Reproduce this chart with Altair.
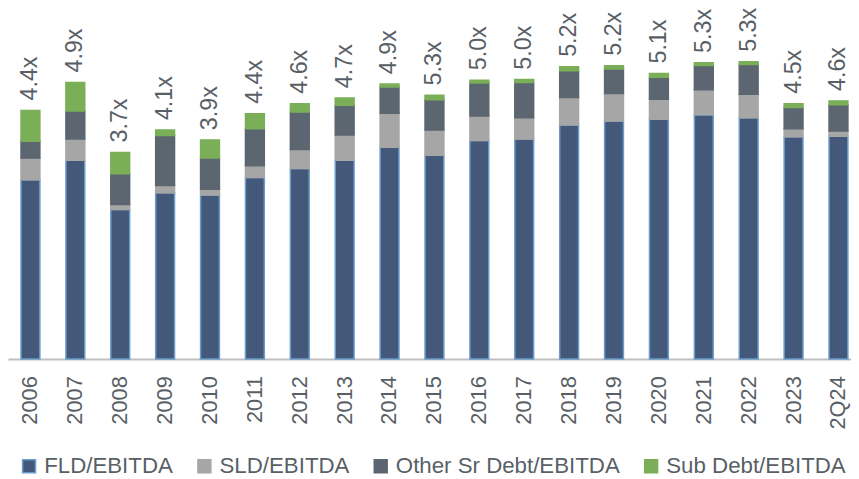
import altair as alt
import pandas as pd

categories = ["2006", "2007", "2008", "2009", "2010", "2011", "2012", "2013", "2014",
              "2015", "2016", "2017", "2018", "2019", "2020", "2021", "2022", "2023", "2Q24"]
series_names = ["FLD/EBITDA", "SLD/EBITDA", "Other Sr Debt/EBITDA", "Sub Debt/EBITDA"]
fld = [3.20, 3.55, 2.67, 2.97, 2.93, 3.24, 3.40, 3.55, 3.78, 3.64, 3.90, 3.93, 4.18, 4.25, 4.28, 4.36, 4.31, 3.97, 3.98]
sld = [0.39, 0.38, 0.09, 0.13, 0.10, 0.21, 0.34, 0.45, 0.61, 0.45, 0.44, 0.38, 0.49, 0.49, 0.36, 0.45, 0.42, 0.14, 0.09]
other_sr = [0.30, 0.50, 0.55, 0.89, 0.56, 0.66, 0.67, 0.53, 0.47, 0.54, 0.59, 0.63, 0.48, 0.44, 0.39, 0.43, 0.53, 0.38, 0.47]
sub_debt = [0.55, 0.51, 0.38, 0.10, 0.32, 0.27, 0.15, 0.13, 0.05, 0.08, 0.05, 0.05, 0.07, 0.06, 0.07, 0.05, 0.05, 0.07, 0.07]
total_labels = ["4.4x", "4.9x", "3.7x", "4.1x", "3.9x", "4.4x", "4.6x", "4.7x", "4.9x", "5.3x",
                "5.0x", "5.0x", "5.2x", "5.2x", "5.1x", "5.3x", "5.3x", "4.5x", "4.6x"]

fill_colors = ["#44597a", "#a6a6a6", "#5c6670", "#7aaf58"]
stroke_colors = ["#6a9ccb", "#a6a6a6", "#5c6670", "#7aaf58"]

rows = []
for i, cat in enumerate(categories):
    for k, (name, vals) in enumerate(zip(series_names, [fld, sld, other_sr, sub_debt])):
        rows.append({"cat": cat, "series": name, "value": vals[i], "ord": k})
df = pd.DataFrame(rows)

tot = pd.DataFrame({
    "cat": categories,
    "label": total_labels,
    "top": [a + b + c + d for a, b, c, d in zip(fld, sld, other_sr, sub_debt)],
})

FONT = "Liberation Sans"
TXT = "#595f66"

x_scale = alt.Scale(paddingInner=0.58, paddingOuter=0.29, range=[0, 861])
x_enc = alt.X(
    "cat:N", sort=categories, scale=x_scale,
    axis=alt.Axis(title=None, labelAngle=-90, ticks=False, grid=False,
                  domainColor="#bfbfbf", domainWidth=2, labelPadding=17,
                  labelFontSize=22, labelFont=FONT, labelColor=TXT),
)
y_scale = alt.Scale(domain=[0, 6.23], nice=False, zero=True)

bars = alt.Chart(df).mark_bar(strokeWidth=1.5).encode(
    x=x_enc,
    y=alt.Y("value:Q", stack="zero", scale=y_scale, axis=None),
    color=alt.Color(
        "series:N",
        scale=alt.Scale(domain=series_names, range=fill_colors),
        legend=alt.Legend(
            title=None, orient="none", legendX=10, legendY=449,
            direction="horizontal", symbolType="square", symbolSize=169,
            labelFontSize=22.5, labelFont=FONT, labelColor=TXT, labelLimit=0,
            labelOffset=4, columnPadding=20, padding=0, symbolStrokeWidth=1.5,
        ),
    ),
    stroke=alt.Stroke("series:N", scale=alt.Scale(domain=series_names, range=stroke_colors)),
    order=alt.Order("ord:Q"),
)

labels = alt.Chart(tot).mark_text(
    angle=270, align="left", baseline="middle", dx=10,
    fontSize=23.5, font=FONT, color=TXT,
).encode(
    x=alt.X("cat:N", sort=categories),
    y=alt.Y("top:Q", scale=y_scale),
    text="label:N",
)

chart = alt.layer(bars, labels).properties(
    width=851, height=352,
    padding={"left": 0, "top": 0, "right": 0, "bottom": 119},
    autosize=alt.AutoSizeParams(type="none"),
).configure_view(stroke=None)

chart.save("out.html", embed_options={"renderer": "svg", "actions": False})
